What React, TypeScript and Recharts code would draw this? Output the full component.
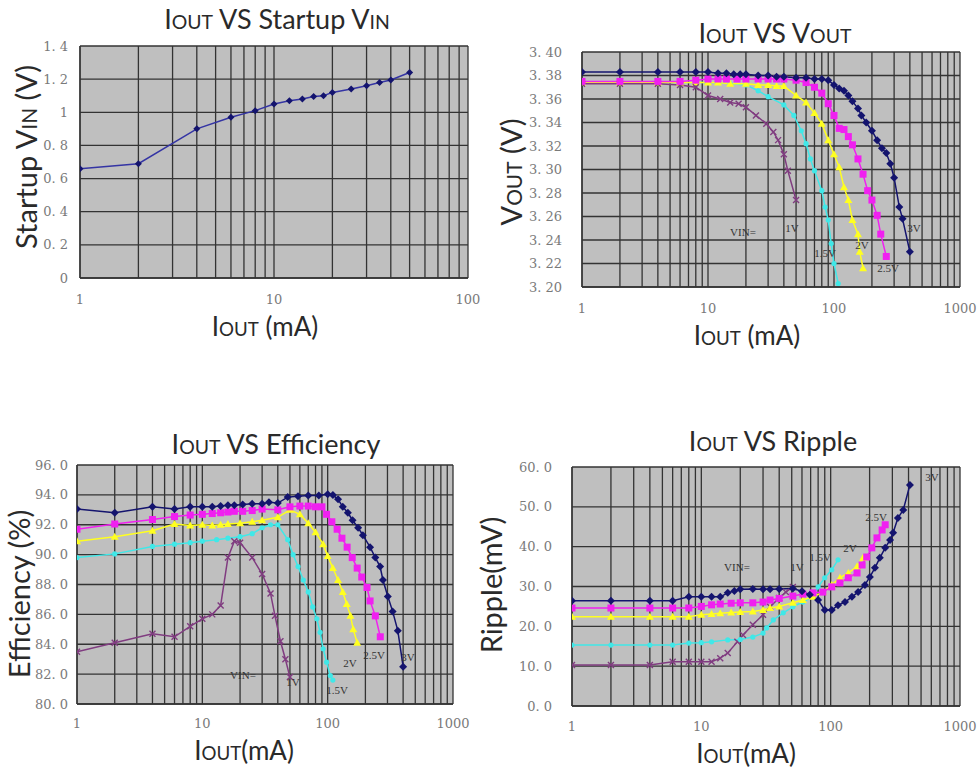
import React from 'react'
import { CartesianGrid, Line, LineChart, XAxis, YAxis } from 'recharts'

// x tick positions (log grid) and the labelled ones
const ticksTo100 = [1, 2, 3, 4, 5, 6, 7, 8, 9, 10, 20, 30, 40, 50, 60, 70, 80, 90, 100]
const ticksTo1000 = [...ticksTo100, 200, 300, 400, 500, 600, 700, 800, 900, 1000]
const xMajor = [1, 10, 100, 1000]

const startupTicks = [0, 0.2, 0.4, 0.6, 0.8, 1, 1.2, 1.4]
const startupTickLabels = ['0', '0. 2', '0. 4', '0. 6', '0. 8', '1', '1. 2', '1. 4']
const voutTicks = [3.2, 3.22, 3.24, 3.26, 3.28, 3.3, 3.32, 3.34, 3.36, 3.38, 3.4]
const voutTickLabels = ['3. 20', '3. 22', '3. 24', '3. 26', '3. 28', '3. 30', '3. 32', '3. 34', '3. 36', '3. 38', '3. 40']
const effTicks = [80, 82, 84, 86, 88, 90, 92, 94, 96]
const effTickLabels = ['80. 0', '82. 0', '84. 0', '86. 0', '88. 0', '90. 0', '92. 0', '94. 0', '96. 0']
const rippleTicks = [0, 10, 20, 30, 40, 50, 60]
const rippleTickLabels = ['0. 0', '10. 0', '20. 0', '30. 0', '40. 0', '50. 0', '60. 0']

// Iout vs startup Vin
const startupIout = [1, 2, 4, 6, 8, 10, 12, 14, 16, 18, 20, 25, 30, 35, 40, 50]
const startupVin = [0.66, 0.69, 0.9, 0.97, 1.01, 1.05, 1.07, 1.08, 1.095, 1.1, 1.12, 1.14, 1.16, 1.18, 1.195, 1.24]

// Iout vs Vout
const vout3vI = [1, 2, 4, 6, 8, 10, 12, 14, 16, 18, 20, 25, 30, 35, 40, 50, 60, 70, 80, 90, 100, 110, 120, 130, 140, 155, 165, 180, 200, 220, 240, 260, 280, 300, 330, 350, 400]
const vout3vV = [3.383, 3.383, 3.383, 3.383, 3.383, 3.383, 3.382, 3.382, 3.381, 3.381, 3.381, 3.38, 3.38, 3.379, 3.379, 3.378, 3.378, 3.377, 3.377, 3.376, 3.372, 3.369, 3.367, 3.363, 3.358, 3.352, 3.346, 3.34, 3.333, 3.325, 3.318, 3.314, 3.305, 3.293, 3.268, 3.258, 3.23]
const vout25vI = [1, 2, 4, 6, 8, 10, 12, 14, 17, 20, 25, 30, 35, 40, 50, 60, 70, 80, 90, 100, 110, 120, 130, 140, 155, 170, 185, 200, 220, 235, 260]
const vout25vV = [3.375, 3.375, 3.375, 3.375, 3.376, 3.377, 3.377, 3.377, 3.377, 3.377, 3.377, 3.377, 3.377, 3.377, 3.376, 3.374, 3.37, 3.365, 3.356, 3.346, 3.335, 3.334, 3.328, 3.321, 3.309, 3.296, 3.282, 3.274, 3.261, 3.245, 3.226]
const vout2vI = [1, 2, 4, 6, 8, 10, 12, 15, 20, 25, 30, 35, 40, 50, 60, 70, 80, 90, 100, 110, 120, 130, 140, 155, 160, 170]
const vout2vV = [3.374, 3.374, 3.374, 3.374, 3.374, 3.374, 3.374, 3.373, 3.373, 3.372, 3.372, 3.371, 3.371, 3.363, 3.357, 3.348, 3.339, 3.325, 3.313, 3.302, 3.285, 3.274, 3.257, 3.245, 3.23, 3.216]
const vout15vI = [1, 2, 4, 6, 8, 10, 12, 15, 20, 25, 30, 40, 48, 55, 60, 65, 70, 80, 85, 90, 95, 100, 108]
const vout15vV = [3.374, 3.374, 3.374, 3.374, 3.374, 3.374, 3.374, 3.373, 3.372, 3.367, 3.362, 3.355, 3.346, 3.333, 3.322, 3.309, 3.299, 3.282, 3.268, 3.257, 3.237, 3.22, 3.203]
const vout1vI = [1, 2, 4, 6, 8, 10, 12.5, 15, 17.5, 20, 24, 29, 33, 36, 40, 43, 50]
const vout1vV = [3.373, 3.373, 3.373, 3.372, 3.37, 3.363, 3.36, 3.357, 3.356, 3.353, 3.346, 3.339, 3.332, 3.325, 3.313, 3.299, 3.274]

// Iout vs efficiency
const eff3vI = [1, 2, 4, 6, 8, 10, 12, 14, 16, 18, 21, 25, 30, 34, 40, 48, 58, 70, 85, 100, 110, 121, 132, 145, 158, 175, 191, 218, 240, 262, 276, 302, 330, 363, 400]
const eff3vE = [93.05, 92.8, 93.2, 93.05, 93.2, 93.2, 93.2, 93.25, 93.3, 93.3, 93.35, 93.4, 93.4, 93.5, 93.45, 93.85, 93.9, 93.95, 93.95, 94.05, 94.0, 93.7, 93.2, 92.8, 92.3, 91.8, 91.3, 90.5, 89.8, 89.2, 88.3, 87.2, 86.2, 84.9, 82.5]
const eff25vI = [1, 2, 4, 6, 8, 10, 12, 14, 16, 18, 21, 25, 30, 40, 50, 60, 70, 80, 90, 98, 108, 119, 130, 143, 157, 172, 187, 206, 218, 240, 263]
const eff25vE = [91.7, 92.05, 92.35, 92.55, 92.65, 92.7, 92.75, 92.8, 92.85, 92.9, 92.9, 92.95, 93.05, 93.0, 93.2, 93.25, 93.25, 93.2, 93.2, 92.7, 92.2, 91.7, 91.1, 90.5, 89.8, 89.1, 88.5, 87.8, 86.9, 85.9, 84.5]
const eff2vI = [1, 2, 4, 6, 8, 10, 12, 14, 16, 20, 25, 30, 40, 50, 60, 70, 80, 92, 100, 110, 121, 132, 142, 152, 160, 172]
const eff2vE = [90.9, 91.2, 91.6, 92.05, 91.95, 92.0, 91.95, 92.0, 92.05, 92.1, 92.2, 92.3, 92.5, 93.0, 92.7, 92.1, 91.5, 90.7, 89.9, 89.1, 88.3, 87.5, 86.7, 85.9, 85.0, 84.1]
const eff15vI = [1, 2, 4, 6, 8, 10, 13, 16, 20, 25, 30, 35, 40, 48, 53, 58, 64, 70, 76, 82, 87, 92, 98, 105, 110]
const eff15vE = [89.8, 90.05, 90.55, 90.7, 90.8, 90.9, 91.0, 91.1, 91.2, 91.4, 91.8, 92.0, 92.0, 91.0, 90.0, 89.2, 88.3, 87.5, 86.5, 85.7, 84.8, 83.7, 82.8, 81.9, 81.6]
const eff1vI = [1, 2, 4, 6, 8, 10, 12, 14, 16, 18, 20, 25, 30, 35, 38, 42, 46, 50]
const eff1vE = [83.5, 84.1, 84.7, 84.5, 85.2, 85.7, 86.0, 86.6, 89.8, 90.9, 90.8, 89.8, 88.7, 87.4, 85.9, 84.2, 83.0, 81.8]

// Iout vs ripple
const ripple3vI = [1, 2, 4, 6, 8, 10, 12, 14, 16, 18, 20, 25, 30, 34, 40, 51, 60, 69, 80, 90, 102, 114, 129, 146, 163, 184, 201, 220, 240, 264, 288, 304, 331, 364, 410]
const ripple3vR = [26.4, 26.4, 26.4, 26.4, 27.4, 27.4, 27.4, 27.4, 28.4, 28.9, 29.3, 29.4, 29.3, 29.3, 29.4, 29.5, 28.8, 27.9, 26.6, 24.1, 24.1, 25.3, 26.1, 27.4, 28.6, 30.4, 32.4, 34.7, 37.2, 39.7, 41.7, 43.5, 47.2, 49.2, 55.5]
const ripple25vI = [1, 2, 4, 6, 8, 10, 12, 14, 17, 20, 25, 30, 34, 40, 51, 61, 73, 87, 102, 118, 137, 160, 175, 190, 208, 228, 250, 264]
const ripple25vR = [24.6, 24.6, 24.6, 24.6, 24.6, 25.0, 25.4, 25.6, 25.8, 25.9, 25.9, 26.1, 26.6, 27.0, 27.6, 28.1, 28.4, 28.6, 29.9, 30.9, 32.2, 33.4, 35.4, 37.4, 39.7, 42.2, 44.2, 45.5]
const ripple2vI = [1, 2, 4, 6, 8, 10, 12, 14, 17, 20, 25, 30, 34, 40, 51, 61, 73, 87, 102, 118, 137, 160, 178]
const ripple2vR = [22.4, 22.4, 22.4, 22.4, 22.4, 22.9, 23.1, 23.3, 23.5, 23.6, 23.7, 24.1, 24.6, 25.0, 25.9, 26.6, 27.4, 28.6, 30.4, 32.2, 33.4, 35.0, 37.2]
const ripple15vI = [1, 2, 4, 6, 8, 10, 12, 16, 20, 25, 30, 32, 36, 43, 51, 61, 72, 80, 90, 102, 114]
const ripple15vR = [15.3, 15.3, 15.3, 15.3, 15.8, 15.9, 16.1, 16.6, 16.7, 17.3, 18.3, 19.6, 21.6, 23.4, 24.9, 26.1, 27.4, 29.9, 32.2, 34.2, 36.7]
const ripple1vI = [1, 2, 4, 6, 8, 10, 12, 14, 16, 19, 21, 25, 30, 34, 40, 45, 51]
const ripple1vR = [10.3, 10.3, 10.3, 11.1, 11.1, 11.1, 11.1, 12.0, 13.3, 16.1, 17.8, 20.4, 22.9, 24.9, 27.1, 28.6, 29.9]

const NAVY = '#14146e'
const MAGENTA = '#f020f0'
const YELLOW = '#ffff20'
const CYAN = '#40e8e8'
const PURPLE = '#803c80'

type Marker = 'diamond' | 'square' | 'triangle' | 'circle' | 'cross' | 'smallDiamond'

type Series = { name: string; xs: number[]; ys: number[]; color: string; marker: Marker; line?: string }

const zip = (xs: number[], ys: number[]) => xs.map((x, i) => ({ x, y: ys[i] }))

function makeDot(kind: Marker, color: string) {
  return (p: any) => {
    const { cx, cy, index } = p
    if (cx == null || cy == null) return <g key={index} />
    if (kind === 'diamond' || kind === 'smallDiamond') {
      const s = kind === 'diamond' ? 4 : 3.5
      return <path key={index} d={`M${cx},${cy - s}L${cx + s},${cy}L${cx},${cy + s}L${cx - s},${cy}Z`} fill={color} />
    }
    if (kind === 'square') return <rect key={index} x={cx - 3.5} y={cy - 3.5} width={7} height={7} fill={color} />
    if (kind === 'triangle')
      return <path key={index} d={`M${cx},${cy - 4}L${cx + 4},${cy + 3}L${cx - 4},${cy + 3}Z`} fill={color} />
    if (kind === 'circle') return <circle key={index} cx={cx} cy={cy} r={2.6} fill={color} />
    return (
      <path key={index} d={`M${cx - 3},${cy - 3}L${cx + 3},${cy + 3}M${cx + 3},${cy - 3}L${cx - 3},${cy + 3}`} stroke={color} strokeWidth={1.4} />
    )
  }
}

function Sc({ big, small }: { big: string; small: string }) {
  return (
    <>
      {big}
      <span style={{ fontSize: '0.72em' }}>{small}</span>
    </>
  )
}

const YW = 80
const MT = 10
const MR = 30
const XH = 40

type PanelProps = {
  plot: [number, number, number, number]
  xTicks: number[]
  xMax: number
  yTicks: number[]
  yLabels: string[]
  yTickMargin: number
  xTickMargin: number
  series: Series[]
}

function Panel({ plot, xTicks, xMax, yTicks, yLabels, yTickMargin, xTickMargin, series }: PanelProps) {
  const [x0, y0, x1, y1] = plot
  const left = x0 - YW
  const top = y0 - MT
  const width = x1 - left + MR
  const height = y1 - top + XH
  const tickStyle = { fontFamily: '"DejaVu Serif", serif', fontSize: 13, fill: '#7a7a7a' }
  return (
    <div style={{ position: 'absolute', left, top }}>
      <LineChart width={width} height={height} margin={{ top: MT, right: MR, left: 0, bottom: 0 }}>
        <CartesianGrid stroke="#333" strokeWidth={1.3} fill="#bfbfbf" fillOpacity={1} />
        <XAxis
          dataKey="x"
          type="number"
          scale="log"
          domain={[1, xMax]}
          ticks={xTicks}
          interval={0}
          allowDataOverflow
          height={XH}
          tickLine={false}
          tickMargin={xTickMargin}
          axisLine={{ stroke: '#333', strokeWidth: 1.3 }}
          tick={tickStyle}
          tickFormatter={(v: number) => (xMajor.includes(v) ? String(v) : '')}
        />
        <YAxis
          type="number"
          domain={[yTicks[0], yTicks[yTicks.length - 1]]}
          ticks={yTicks}
          interval={0}
          width={YW}
          tickLine={false}
          tickMargin={yTickMargin}
          axisLine={{ stroke: '#333', strokeWidth: 1.3 }}
          tick={tickStyle}
          tickFormatter={(v: number) => {
            const i = yTicks.findIndex((t) => Math.abs(t - v) < 1e-6)
            return i >= 0 ? yLabels[i] : ''
          }}
        />
        {series.map((s) => (
          <Line
            key={s.name}
            name={s.name}
            data={zip(s.xs, s.ys)}
            dataKey="y"
            type="linear"
            stroke={s.line ?? s.color}
            strokeWidth={1.5}
            dot={makeDot(s.marker, s.color)}
            activeDot={false}
            isAnimationActive={false}
          />
        ))}
      </LineChart>
    </div>
  )
}

const sans = 'Lato, "Open Sans", sans-serif'

function Txt({ x, y, size, rotate, children, font = sans, color = '#2a2a2a' }: any) {
  return (
    <div
      style={{
        position: 'absolute',
        left: x,
        top: y,
        transform: `translate(-50%, -50%)${rotate ? ' rotate(-90deg)' : ''}`,
        whiteSpace: 'nowrap',
        fontFamily: font,
        fontSize: size,
        color,
        lineHeight: 1
      }}
    >
      {children}
    </div>
  )
}

function Note({ x, y, children }: any) {
  return (
    <Txt x={x} y={y} size={11} font='"Liberation Serif", serif' color="#333">
      {children}
    </Txt>
  )
}

export default function App() {
  return (
    <div style={{ position: 'absolute', left: 0, top: 0, width: 977, height: 769, background: '#fff', overflow: 'hidden' }}>
      {/* top left */}
      <Panel
        plot={[80, 46, 468, 278]}
        xTicks={ticksTo100}
        xMax={100}
        yTicks={startupTicks}
        yLabels={startupTickLabels}
        yTickMargin={6}
        xTickMargin={11}
        series={[{ name: 'startup', xs: startupIout, ys: startupVin, color: NAVY, line: '#3434a4', marker: 'smallDiamond' }]}
      />
      <Txt x={277} y={18} size={27}>
        <Sc big="I" small="OUT" /> VS Startup <Sc big="V" small="IN" />
      </Txt>
      <Txt x={265} y={326} size={26}>
        <Sc big="I" small="OUT" /> (mA)
      </Txt>
      <Txt x={25} y={157} size={29} rotate>
        Startup <Sc big="V" small="IN" /> (V)
      </Txt>

      {/* top right */}
      <Panel
        plot={[582, 52, 960, 287]}
        xTicks={ticksTo1000}
        xMax={1000}
        yTicks={voutTicks}
        yLabels={voutTickLabels}
        yTickMargin={14}
        xTickMargin={11}
        series={[
          { name: '1.5V', xs: vout15vI, ys: vout15vV, color: CYAN, marker: 'circle' },
          { name: '2V', xs: vout2vI, ys: vout2vV, color: YELLOW, marker: 'triangle' },
          { name: '1V', xs: vout1vI, ys: vout1vV, color: PURPLE, marker: 'cross' },
          { name: '2.5V', xs: vout25vI, ys: vout25vV, color: MAGENTA, marker: 'square' },
          { name: '3V', xs: vout3vI, ys: vout3vV, color: NAVY, marker: 'diamond' }
        ]}
      />
      <Txt x={775} y={32} size={27}>
        <Sc big="I" small="OUT" /> VS <Sc big="V" small="OUT" />
      </Txt>
      <Txt x={747} y={335} size={26}>
        <Sc big="I" small="OUT" /> (mA)
      </Txt>
      <Txt x={510} y={172} size={29} rotate>
        <Sc big="V" small="OUT" /> (V)
      </Txt>
      <Note x={743} y={232}>VIN=</Note>
      <Note x={792} y={228}>1V</Note>
      <Note x={825} y={253}>1.5V</Note>
      <Note x={862} y={245}>2V</Note>
      <Note x={888} y={268}>2.5V</Note>
      <Note x={914} y={228}>3V</Note>

      {/* bottom left */}
      <Panel
        plot={[77, 465, 453, 704]}
        xTicks={ticksTo1000}
        xMax={1000}
        yTicks={effTicks}
        yLabels={effTickLabels}
        yTickMargin={3}
        xTickMargin={9}
        series={[
          { name: '1V', xs: eff1vI, ys: eff1vE, color: PURPLE, marker: 'cross' },
          { name: '1.5V', xs: eff15vI, ys: eff15vE, color: CYAN, marker: 'circle' },
          { name: '2V', xs: eff2vI, ys: eff2vE, color: YELLOW, marker: 'triangle' },
          { name: '2.5V', xs: eff25vI, ys: eff25vE, color: MAGENTA, marker: 'square' },
          { name: '3V', xs: eff3vI, ys: eff3vE, color: NAVY, marker: 'diamond' }
        ]}
      />
      <Txt x={276} y={443} size={27}>
        <Sc big="I" small="OUT" /> VS Efficiency
      </Txt>
      <Txt x={244} y={750} size={26}>
        <Sc big="I" small="OUT" />(mA)
      </Txt>
      <Txt x={18} y={594} size={29} rotate>
        Efficiency (%)
      </Txt>
      <Note x={243} y={675}>VIN=</Note>
      <Note x={293} y={682}>1V</Note>
      <Note x={337} y={690}>1.5V</Note>
      <Note x={350} y={663}>2V</Note>
      <Note x={374} y={655}>2.5V</Note>
      <Note x={408} y={657}>3V</Note>

      {/* bottom right */}
      <Panel
        plot={[572, 467, 960, 706]}
        xTicks={ticksTo1000}
        xMax={1000}
        yTicks={rippleTicks}
        yLabels={rippleTickLabels}
        yTickMargin={14}
        xTickMargin={10}
        series={[
          { name: '1V', xs: ripple1vI, ys: ripple1vR, color: PURPLE, marker: 'cross' },
          { name: '1.5V', xs: ripple15vI, ys: ripple15vR, color: CYAN, marker: 'circle' },
          { name: '2V', xs: ripple2vI, ys: ripple2vR, color: YELLOW, marker: 'triangle' },
          { name: '2.5V', xs: ripple25vI, ys: ripple25vR, color: MAGENTA, marker: 'square' },
          { name: '3V', xs: ripple3vI, ys: ripple3vR, color: NAVY, marker: 'diamond' }
        ]}
      />
      <Txt x={773} y={440} size={27}>
        <Sc big="I" small="OUT" /> VS Ripple
      </Txt>
      <Txt x={746} y={753} size={26}>
        <Sc big="I" small="OUT" />(mA)
      </Txt>
      <Txt x={490} y={585} size={29} rotate>
        Ripple(mV)
      </Txt>
      <Note x={737} y={567}>VIN=</Note>
      <Note x={797} y={567}>1V</Note>
      <Note x={820} y={557}>1.5V</Note>
      <Note x={850} y={548}>2V</Note>
      <Note x={876} y={517}>2.5V</Note>
      <Note x={932} y={477}>3V</Note>
    </div>
  )
}
